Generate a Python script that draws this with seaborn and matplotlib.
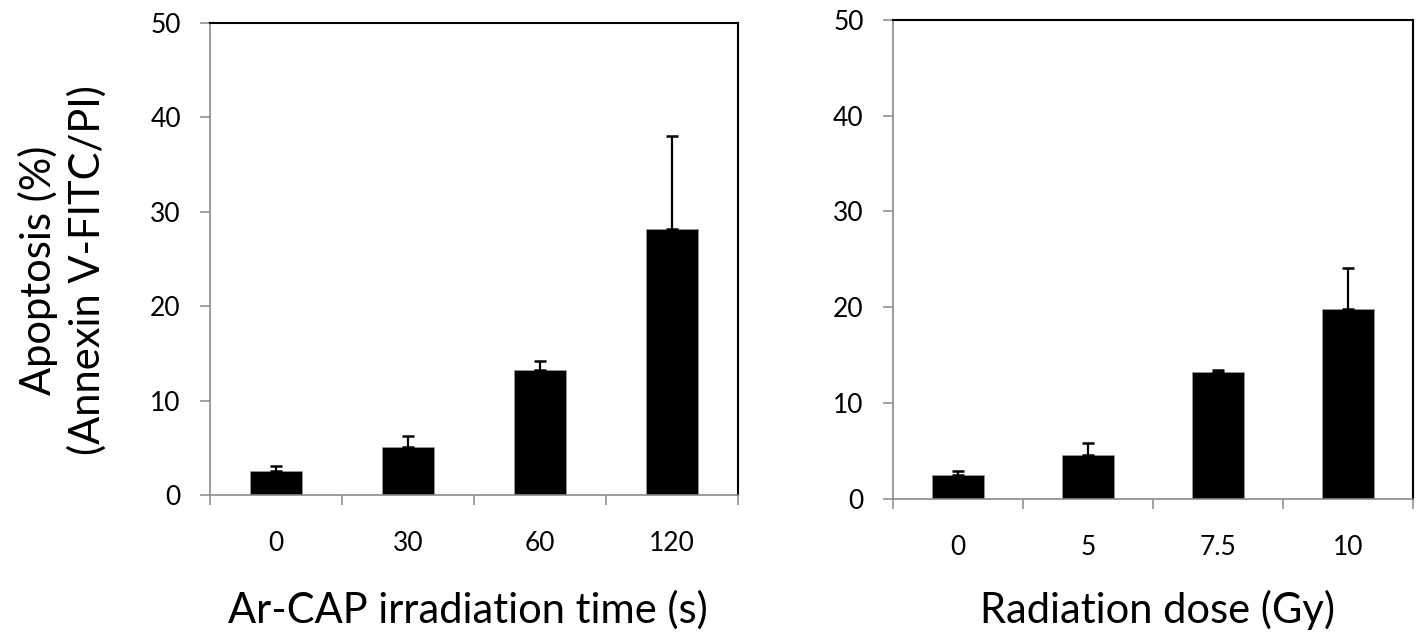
import matplotlib
matplotlib.use("Agg")
import matplotlib.pyplot as plt
import numpy as np
import pandas as pd
import seaborn as sns
from matplotlib.ticker import FixedLocator

# Apoptosis after Ar-CAP exposure (left) and X-ray radiation (right)
time_labels = ["0", "30", "60", "120"]
time_means = [2.55, 5.13, 13.2, 28.2]
time_err = [0.55, 1.12, 0.95, 9.8]

dose_labels = ["0", "5", "7.5", "10"]
dose_means = [2.45, 4.5, 13.2, 19.8]
dose_err = [0.45, 1.3, 0.25, 4.25]

y_ticks = [0, 10, 20, 30, 40, 50]

sns.set_theme(style="white")
plt.rcParams["font.family"] = ["Lato", "DejaVu Sans"]

GRAY = "#8a8a8a"

fig = plt.figure(figsize=(14.19, 6.34), dpi=100)
ax1 = fig.add_axes([0.148, 0.2192, 0.3721, 0.7445])
ax2 = fig.add_axes([0.6293, 0.2137, 0.3665, 0.7548])


def panel(ax, labels, means, errs):
    df = pd.DataFrame({"group": labels, "value": means})
    sns.barplot(data=df, x="group", y="value", order=labels, color="black",
                saturation=1, width=0.4, errorbar=None, ax=ax,
                edgecolor="#9a9a9a", linewidth=0.5)
    n = len(labels)
    ax.errorbar(np.arange(n), means, yerr=[np.zeros(n), errs], fmt="none",
                ecolor="black", elinewidth=1.6, capsize=4.3, capthick=1.8)
    ax.set_xlim(-0.5, n - 0.5)
    ax.set_ylim(0, 50)
    ax.set_yticks(y_ticks)
    ax.set_xlabel("")
    ax.set_ylabel("")
    ax.xaxis.set_minor_locator(FixedLocator(np.arange(-0.5, n, 1.0)))
    ax.tick_params(axis="x", which="major", length=0, pad=26, labelsize=19,
                   labelcolor="black")
    ax.tick_params(axis="x", which="minor", bottom=True, length=7, width=1.1,
                   color=GRAY, direction="out")
    ax.tick_params(axis="y", left=True, length=7, width=1.1, color=GRAY,
                   direction="out", pad=14, labelsize=19, labelcolor="black")
    for side in ("left", "bottom"):
        ax.spines[side].set_color(GRAY)
        ax.spines[side].set_linewidth(1.2)
    for side in ("top", "right"):
        ax.spines[side].set_color("black")
        ax.spines[side].set_linewidth(1.5)
    ax.grid(False)


panel(ax1, time_labels, time_means, time_err)
panel(ax2, dose_labels, dose_means, dose_err)

fig.text(62 / 1419, 1 - 270 / 634, "Apoptosis (%)\n(Annexin V-FITC/PI)",
         rotation=90, ha="center", va="center", fontsize=30,
         linespacing=1.3, color="black")
fig.text(468 / 1419, 1 - 610 / 634, "Ar-CAP irradiation time (s)",
         ha="center", va="center", fontsize=30, color="black")
fig.text(1157 / 1419, 1 - 610 / 634, "Radiation dose (Gy)",
         ha="center", va="center", fontsize=30, color="black")

fig.savefig("out.png", dpi=100, facecolor="white")
